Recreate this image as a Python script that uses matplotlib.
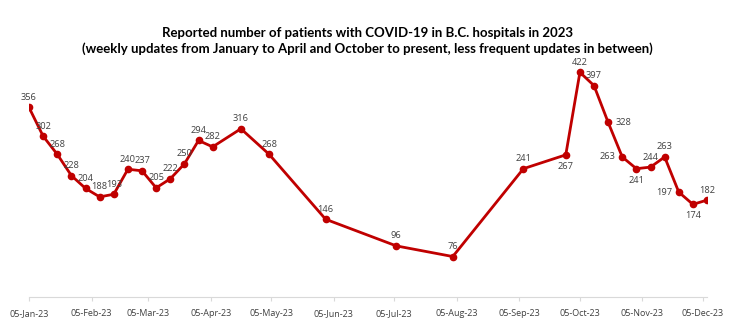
import datetime as dt

import matplotlib
matplotlib.use("Agg")
import matplotlib.pyplot as plt
import matplotlib.dates as mdates


# ==================================
# DATA
# ==================================

dates = [
    "2023-01-05", "2023-01-12", "2023-01-19", "2023-01-26",
    "2023-02-02", "2023-02-09", "2023-02-16", "2023-02-23",
    "2023-03-02", "2023-03-09", "2023-03-16", "2023-03-23", "2023-03-30",
    "2023-04-06", "2023-04-20", "2023-05-04", "2023-06-01",
    "2023-07-06", "2023-08-03", "2023-09-07", "2023-09-28",
    "2023-10-05", "2023-10-12", "2023-10-19", "2023-10-26",
    "2023-11-02", "2023-11-09", "2023-11-16", "2023-11-23", "2023-11-30",
    "2023-12-07",
]

patients = [
    356, 302, 268, 228,
    204, 188, 193, 240,
    237, 205, 222, 250, 294,
    282, 316, 268, 146,
    96, 76, 241, 267,
    422, 397, 328, 263,
    241, 244, 263, 197, 174,
    182,
]

# where each data label sits relative to its point
label_side = [
    "above", "above", "above", "above",
    "above", "above", "above", "above",
    "above", "above", "above", "above", "above",
    "above", "above", "above", "above",
    "above", "above", "above", "below",
    "above", "above", "right", "left",
    "below", "above", "above", "left", "below",
    "above",
]

tick_dates = [dt.date(2023, m, 5) for m in range(1, 13)]

title = (
    "Reported number of patients with COVID-19 in B.C. hospitals in 2023\n"
    "(weekly updates from January to April and October to present, "
    "less frequent updates in between)"
)


# ==================================
# PLOT
# ==================================

x = [dt.datetime.strptime(d, "%Y-%m-%d") for d in dates]

fig = plt.figure(figsize=(7.5, 3.3), dpi=100)
ax = fig.add_axes([0.0387, 0.10, 0.904, 0.726])

ax.plot(
    x,
    patients,
    color="#C00000",
    linewidth=2,
    marker="o",
    markersize=4.5,
)

offsets = {
    "above": ((0, 4), "center", "bottom"),
    "below": ((0, -5), "center", "top"),
    "left": ((-5, 0), "right", "center"),
    "right": ((5, 0), "left", "center"),
}

for xi, yi, side in zip(x, patients, label_side):
    off, ha, va = offsets[side]
    ax.annotate(
        str(yi),
        (xi, yi),
        xytext=off,
        textcoords="offset points",
        ha=ha,
        va=va,
        fontsize=6.7,
        color="#404040",
        family="Open Sans",
    )

ax.set_ylim(0, 450)
ax.set_xlim(x[0], x[-1])

ax.set_xticks(tick_dates)
ax.xaxis.set_major_formatter(mdates.DateFormatter("%d-%b-%y"))
ax.tick_params(
    axis="x",
    labelsize=6.5,
    colors="#D9D9D9",
    labelcolor="#404040",
    length=3,
    pad=6,
)
for lbl in ax.get_xticklabels():
    lbl.set_family("Open Sans")

ax.set_yticks([])
for side in ["left", "right", "top"]:
    ax.spines[side].set_visible(False)
ax.spines["bottom"].set_color("#D9D9D9")

fig.text(
    0.49,
    0.832,
    title,
    ha="center",
    va="bottom",
    fontsize=9.5,
    fontweight="bold",
    family="Lato",
    linespacing=1.35,
)

fig.savefig("out.png", dpi=100)
